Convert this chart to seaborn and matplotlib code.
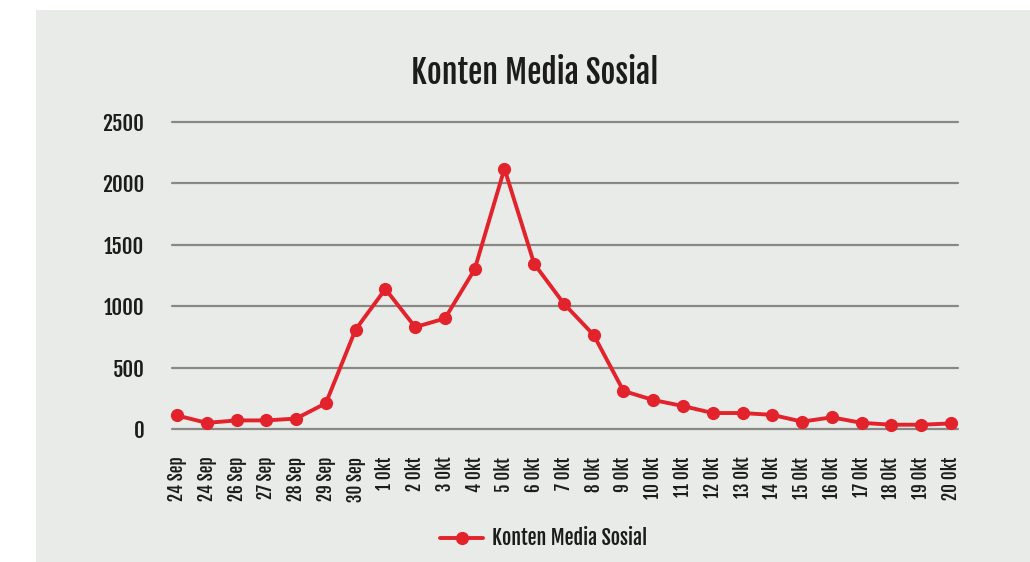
import numpy as np
import pandas as pd
import seaborn as sns
import matplotlib
matplotlib.use("Agg")
import matplotlib.pyplot as plt
from matplotlib.patches import Rectangle

dates = ["24 Sep", "24 Sep", "26 Sep", "27 Sep", "28 Sep", "29 Sep", "30 Sep",
         "1 0kt", "2 0kt", "3 0kt", "4 0kt", "5 0kt", "6 0kt", "7 0kt", "8 0kt",
         "9 0kt", "10 0kt", "11 0kt", "12 0kt", "13 0kt", "14 0kt", "15 0kt",
         "16 0kt", "17 0kt", "18 0kt", "19 0kt", "20 0kt"]
values = [110, 50, 70, 70, 85, 210, 810, 1140, 830, 900, 1300, 2120, 1345, 1020,
          765, 310, 236, 187, 130, 130, 115, 60, 95, 50, 35, 35, 45]
series_name = "Konten Media Sosial"
y_ticks = [0, 500, 1000, 1500, 2000, 2500]

sns.set_theme(style="white")
FONT = ["Fjalla One", "Oswald", "DejaVu Sans"]
plt.rcParams["font.family"] = FONT

BG = "#e9ebe8"
RED = "#e3232b"
GRID = "#8a8885"
TXT = "#1c1c1c"

fig = plt.figure(figsize=(10.30, 5.62), dpi=100, facecolor="white")
fig.patches.append(Rectangle((36 / 1030, 0), 1 - 36 / 1030, 1 - 10 / 562,
                             transform=fig.transFigure, facecolor=BG,
                             edgecolor="none", zorder=-10))

ax = fig.add_axes([172 / 1030, 1 - 429 / 562, (958 - 172) / 1030, (429 - 122) / 562])
ax.set_facecolor("none")

df = pd.DataFrame({"pos": np.arange(len(dates)), "value": values, "series": series_name})
sns.lineplot(data=df, x="pos", y="value", hue="series", palette=[RED], estimator=None,
             marker="o", markersize=9.5, linewidth=2.8, markeredgewidth=0,
             ax=ax, zorder=5, clip_on=False)

ax.set_ylim(0, 2500)
ax.set_xlim(-0.17, len(dates) - 1 + 0.24)
ax.set_yticks(y_ticks)
ax.set_yticklabels([str(v) for v in y_ticks], fontsize=15, color=TXT)
ax.set_xticks(df["pos"])
ax.set_xticklabels(dates, rotation=90, fontsize=12.3, color=TXT)
ax.tick_params(axis="y", length=0, pad=20)
ax.tick_params(axis="x", length=0, pad=20)
for s in ax.spines.values():
    s.set_visible(False)
ax.grid(axis="y", color=GRID, linewidth=1.6)
ax.grid(axis="x", visible=False)
for gl in ax.get_ygridlines():
    gl.set_clip_on(False)
ax.set_axisbelow(True)
ax.set_xlabel("")
ax.set_ylabel("")

fig.text(535 / 1030, 1 - 73 / 562, "Konten Media Sosial", ha="center", va="center",
         fontsize=23, color=TXT)

handles, labels = ax.get_legend_handles_labels()
leg = ax.legend(handles, labels, loc="center", bbox_to_anchor=(0.528, 1 - 538 / 562),
                bbox_transform=fig.transFigure, frameon=False,
                prop={"size": 14.5, "family": FONT}, handlelength=2.15, handletextpad=0.45)
for t in leg.get_texts():
    t.set_color(TXT)

fig.savefig("out.png", dpi=100, facecolor=fig.get_facecolor())
